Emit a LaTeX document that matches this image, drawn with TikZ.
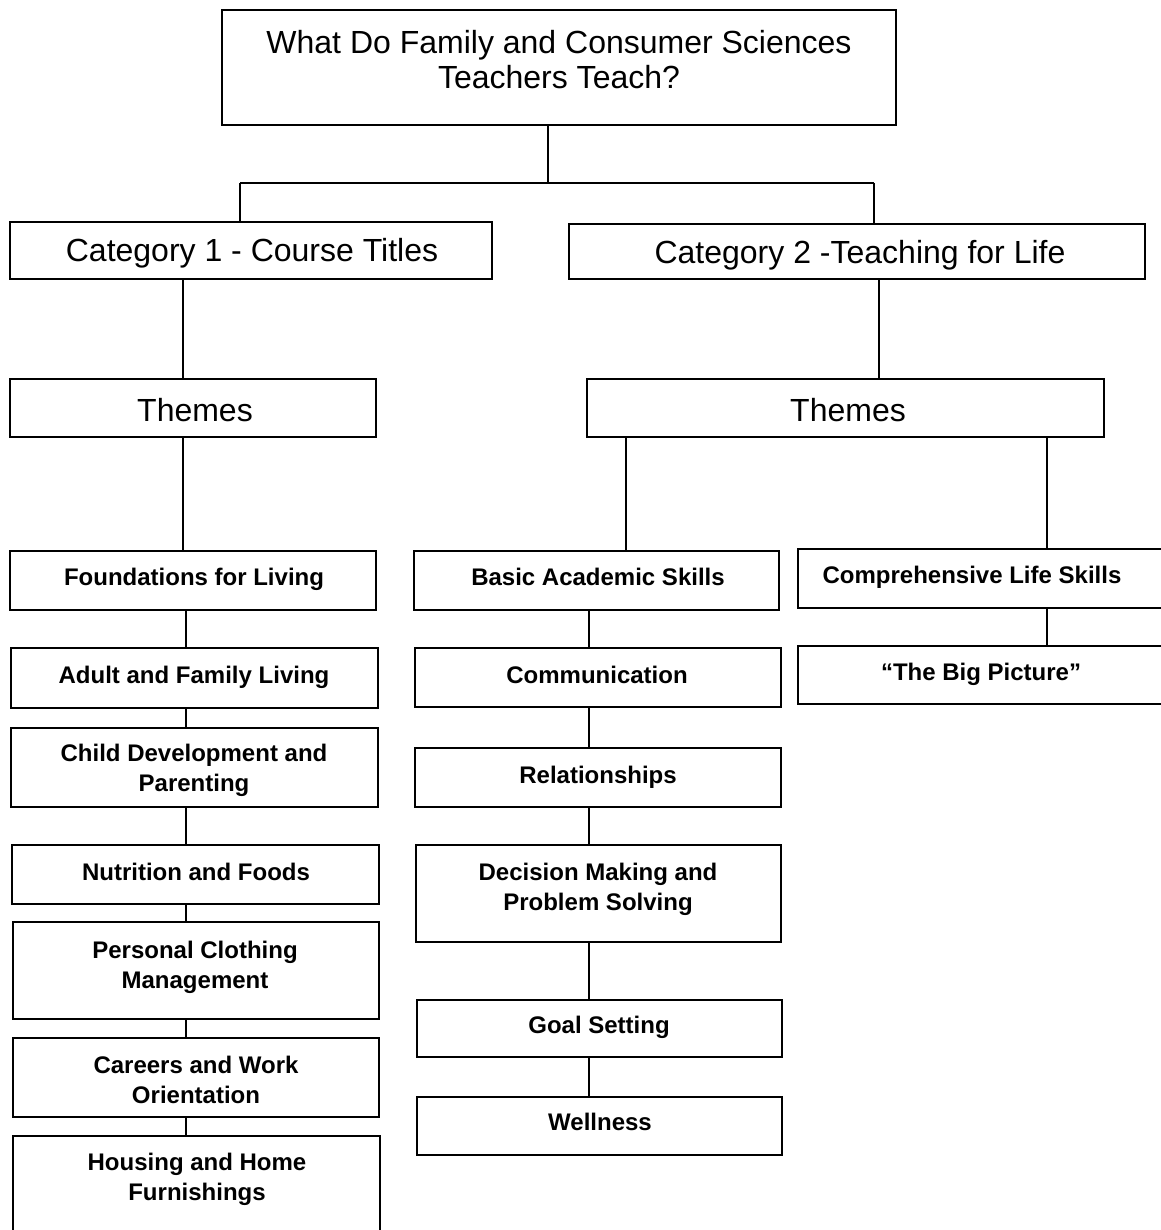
\documentclass[tikz,border=0pt]{standalone}
\usepackage{fontspec}
\setmainfont{Liberation Sans}
\usetikzlibrary{fit}
\begin{document}
\begin{tikzpicture}[x=1pt,y=-1pt,
  frame/.style={draw=black, line width=1.8pt, inner sep=0pt, rectangle},
  head/.style={font=\fontsize{32}{35}\selectfont, align=center, inner sep=0pt},
  leaf/.style={font=\bfseries\fontsize{24}{30}\selectfont, align=center, inner sep=0pt},
  link/.style={draw=black, line width=1.5pt}]
\useasboundingbox[fill=white] (0,0) rectangle (1160,1230);

% boxes
\node[frame, fit={(222,10) (896,125)}] (title) {};
\node[frame, fit={(10,222) (492,279)}] (cat1) {};
\node[frame, fit={(569,224) (1145,279)}] (cat2) {};
\node[frame, fit={(10,379) (376,437)}] (th1) {};
\node[frame, fit={(587,379) (1104,437)}] (th2) {};
\node[frame, fit={(10,551) (376,610)}] (found) {};
\node[frame, fit={(414,551) (779,610)}] (basic) {};
\node[frame, fit={(798,549) (1175,608)}] (compr) {};
\node[frame, fit={(798,646) (1175,704)}] (big) {};
\node[frame, fit={(11,648) (378,708)}] (adult) {};
\node[frame, fit={(11,728) (378,807)}] (child) {};
\node[frame, fit={(12,845) (379,904)}] (nutr) {};
\node[frame, fit={(13,922) (379,1019)}] (pers) {};
\node[frame, fit={(13,1038) (379,1117)}] (care) {};
\node[frame, fit={(13,1136) (380,1245)}] (hous) {};
\node[frame, fit={(415,648) (781,707)}] (comm) {};
\node[frame, fit={(415,748) (781,807)}] (rel) {};
\node[frame, fit={(416,845) (781,942)}] (dec) {};
\node[frame, fit={(417,1000) (782,1057)}] (goal) {};
\node[frame, fit={(417,1097) (782,1155)}] (well) {};

% texts
\node[head] (title-t) at (559,59.5) {What Do Family and Consumer Sciences\\Teachers Teach?};
\node[head, anchor=base] (cat1-t) at (252,261.5) {Category 1 - Course Titles};
\node[head, anchor=base] (cat2-t) at (860,263.5) {Category 2 -Teaching for Life};
\node[head, anchor=base] (th1-t) at (195,421.5) {Themes};
\node[head, anchor=base] (th2-t) at (848,421.5) {Themes};
\node[leaf, anchor=base] (found-t) at (194,585.5) {Foundations for Living};
\node[leaf, anchor=base] (basic-t) at (598,585.5) {Basic Academic Skills};
\node[leaf, anchor=base] (compr-t) at (972,583.5) {Comprehensive Life Skills};
\node[leaf, anchor=base] (big-t) at (981,680.5) {``The Big Picture''};
\node[leaf, anchor=base] (adult-t) at (194,683.5) {Adult and Family Living};
\begin{scope}
\clip (11,728) rectangle (378,799);
\node[leaf] (child-t) at (194,770) {Child Development and\\Parenting};
\end{scope}
\node[leaf, anchor=base] (nutr-t) at (196,880.5) {Nutrition and Foods};
\node[leaf] (pers-t) at (195,967) {Personal Clothing\\Management};
\node[leaf] (care-t) at (196,1080) {Careers and Work\\Orientation};
\node[leaf] (hous-t) at (197,1179) {Housing and Home\\Furnishings};
\node[leaf, anchor=base] (comm-t) at (597,683.5) {Communication};
\node[leaf, anchor=base] (rel-t) at (598,783.5) {Relationships};
\node[leaf] (dec-t) at (598,889) {Decision Making and\\Problem Solving};
\node[leaf, anchor=base] (goal-t) at (599,1033.5) {Goal Setting};
\node[leaf, anchor=base] (well-t) at (600,1130.5) {Wellness};

% connectors
\coordinate (jt) at (548,183);
\coordinate (jl) at (240,183);
\coordinate (jr) at (874,183);
\coordinate (xa) at (183,0);
\coordinate (xb) at (186,0);
\coordinate (xc) at (879,0);
\coordinate (xd) at (626,0);
\coordinate (xe) at (1047,0);
\coordinate (xf) at (589,0);
\draw[link] (title.south -| jt) -- (jt);
\draw[link] (jl) -- (jr);
\draw[link] (jl) -- (jl |- cat1.north);
\draw[link] (jr) -- (jr |- cat2.north);
\draw[link] (cat1.south -| xa) -- (th1.north -| xa);
\draw[link] (th1.south -| xa) -- (found.north -| xa);
\draw[link] (found.south -| xb) -- (adult.north -| xb);
\draw[link] (adult.south -| xb) -- (child.north -| xb);
\draw[link] (child.south -| xb) -- (nutr.north -| xb);
\draw[link] (nutr.south -| xb) -- (pers.north -| xb);
\draw[link] (pers.south -| xb) -- (care.north -| xb);
\draw[link] (care.south -| xb) -- (hous.north -| xb);
\draw[link] (cat2.south -| xc) -- (th2.north -| xc);
\draw[link] (th2.south -| xd) -- (basic.north -| xd);
\draw[link] (th2.south -| xe) -- (compr.north -| xe);
\draw[link] (compr.south -| xe) -- (big.north -| xe);
\draw[link] (basic.south -| xf) -- (comm.north -| xf);
\draw[link] (comm.south -| xf) -- (rel.north -| xf);
\draw[link] (rel.south -| xf) -- (dec.north -| xf);
\draw[link] (dec.south -| xf) -- (goal.north -| xf);
\draw[link] (goal.south -| xf) -- (well.north -| xf);
\end{tikzpicture}
\end{document}
